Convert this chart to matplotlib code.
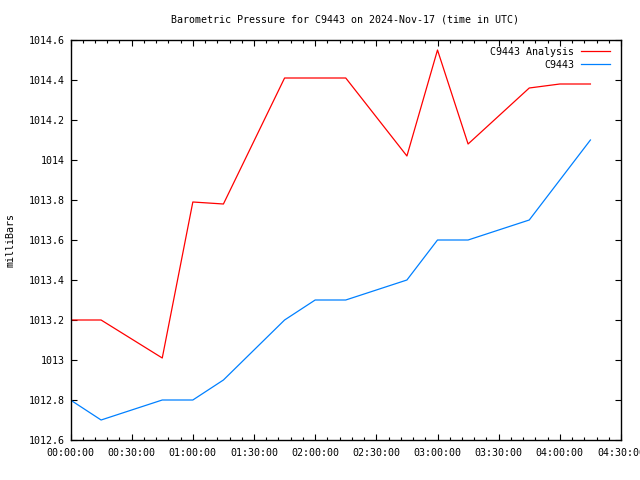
import datetime as dt
import matplotlib
matplotlib.use('Agg')
import matplotlib.pyplot as plt
import matplotlib.dates as mdates

plt.rcParams['font.family'] = ['DejaVu Sans Mono']
plt.rcParams['font.size'] = 7.2

day = dt.datetime(2024, 11, 17)

# times (HH:MM, UTC) and pressures (mb)
analysis_times = ['00:00', '00:15', '00:45', '01:00', '01:15', '01:45', '02:15',
                  '02:45', '03:00', '03:15', '03:45', '04:00', '04:15']
analysis_vals = [1013.2, 1013.2, 1013.01, 1013.79, 1013.78, 1014.41, 1014.41,
                 1014.02, 1014.55, 1014.08, 1014.36, 1014.38, 1014.38]

obs_times = ['00:00', '00:15', '00:45', '01:00', '01:15', '01:45', '02:00',
             '02:15', '02:45', '03:00', '03:15', '03:45', '04:15']
obs_vals = [1012.8, 1012.7, 1012.8, 1012.8, 1012.9, 1013.2, 1013.3,
            1013.3, 1013.4, 1013.6, 1013.6, 1013.7, 1014.1]

y_ticks = [1012.6, 1012.8, 1013, 1013.2, 1013.4, 1013.6, 1013.8, 1014, 1014.2, 1014.4, 1014.6]
y_labels = ['1012.6', '1012.8', '1013', '1013.2', '1013.4', '1013.6', '1013.8',
            '1014', '1014.2', '1014.4', '1014.6']


def to_dt(hhmm):
    h, m = hhmm.split(':')
    return day + dt.timedelta(hours=int(h), minutes=int(m))


fig = plt.figure(figsize=(6.4, 4.8), dpi=100)
ax = fig.add_axes([70.5 / 640, 40 / 480, 550.5 / 640, 400 / 480])

ax.plot([to_dt(t) for t in analysis_times], analysis_vals, color='#ff0000', lw=0.9,
        label='C9443 Analysis')
ax.plot([to_dt(t) for t in obs_times], obs_vals, color='#0080ff', lw=0.9, label='C9443')

ax.set_xlim(to_dt('00:00'), to_dt('04:30'))
ax.set_ylim(1012.6, 1014.6)
ax.set_yticks(y_ticks)
ax.set_yticklabels(y_labels)

ax.xaxis.set_major_locator(mdates.MinuteLocator(byminute=[0, 30]))
ax.xaxis.set_minor_locator(mdates.MinuteLocator(byminute=range(0, 60, 6)))
ax.xaxis.set_major_formatter(mdates.DateFormatter('%H:%M:%S'))

ax.tick_params(which='both', direction='in', top=True, right=True, labelsize=7.2, color='black')
ax.tick_params(which='major', length=4.5, width=0.8, pad=6)
ax.tick_params(axis='y', which='major', pad=4)
ax.tick_params(which='minor', length=2.2, width=0.8)
for s in ax.spines.values():
    s.set_linewidth(1.0)

ax.set_ylabel('milliBars', fontsize=7.2)
ax.yaxis.set_label_coords(-0.1, 0.5)
fig.text(345 / 640, 1 - 20 / 480, 'Barometric Pressure for C9443 on 2024-Nov-17 (time in UTC)',
         ha='center', va='center', fontsize=7.2)

ax.legend(loc='upper right', frameon=False, markerfirst=False, fontsize=7.2,
          handlelength=2.9, handletextpad=0.7, labelspacing=0.3,
          borderaxespad=0.3, bbox_to_anchor=(0.993, 1.0))

fig.savefig('out.png', dpi=100)
